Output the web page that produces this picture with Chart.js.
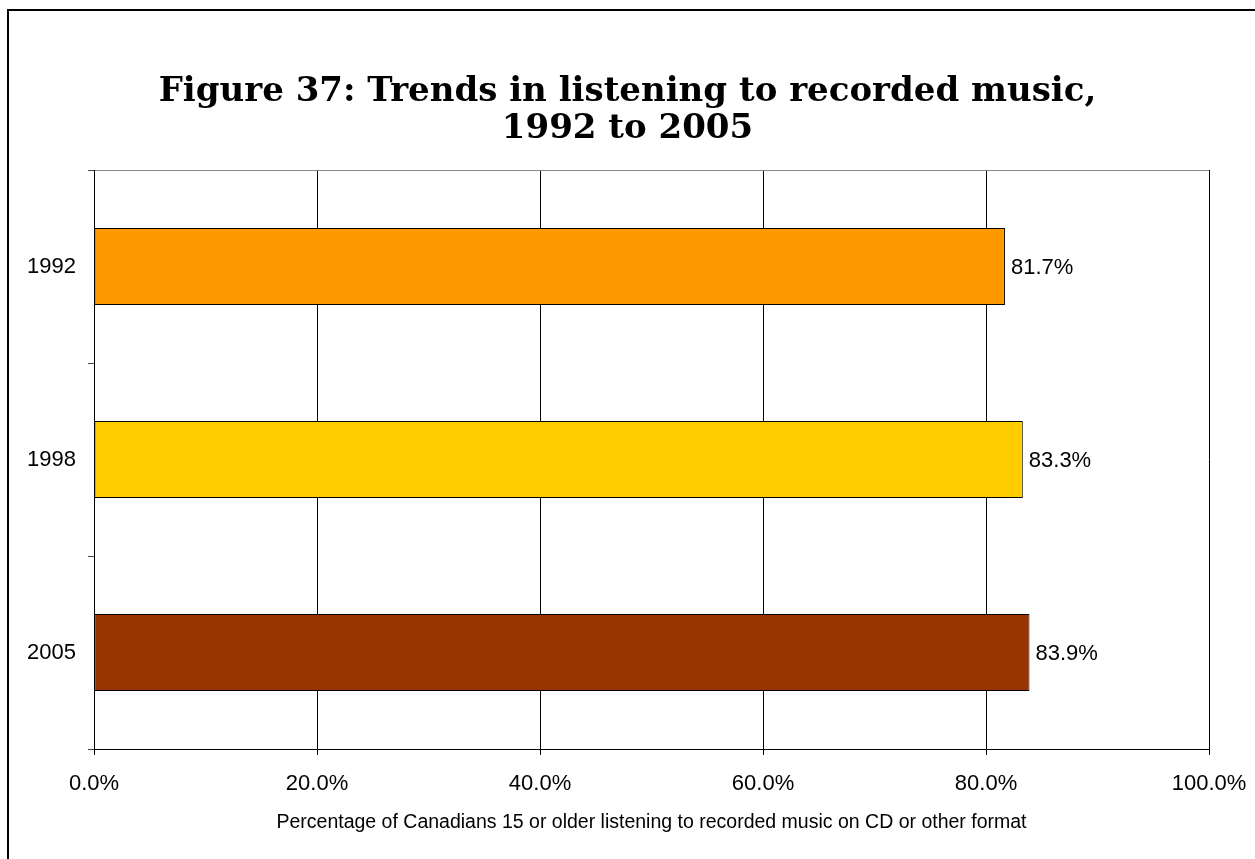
<!DOCTYPE html>
<html>
<head>
<meta charset="utf-8">
<script src="https://cdn.jsdelivr.net/npm/chart.js@4.4.1/dist/chart.umd.min.js"></script>
<style>
  html, body { margin: 0; padding: 0; background: #fff; overflow: hidden; }
  #frame {
    position: absolute; left: 7px; top: 9px;
    width: 2000px; height: 2000px;
    border: 2px solid #000;
  }
  #wrap { position: absolute; left: 0; top: 0; width: 1255px; height: 859px; }
</style>
</head>
<body>
<div id="frame"></div>
<div id="wrap"><canvas id="chart" width="1255" height="859"></canvas></div>
<script>
// Chart data
const years = ['1992', '1998', '2005'];
const listening = [81.7, 83.3, 83.9];
const barColors = ['#FF9900', '#FFCC00', '#993300'];
const xTicks = [0, 20, 40, 60, 80, 100];

const titleLines = ['Figure 37: Trends in listening to recorded music,', '1992 to 2005'];
const xTitle = 'Percentage of Canadians 15 or older listening to recorded music on CD or other format';

const sansFont = '"Liberation Sans", Arial, sans-serif';

// title centred on the whole picture (not just the plot area)
const pageTitle = {
    id: 'pageTitle',
    afterDraw(chart) {
        const ctx = chart.ctx;
        ctx.save();
        ctx.font = 'bold 34px "DejaVu Serif", serif';
        ctx.fillStyle = '#000';
        ctx.textAlign = 'center';
        ctx.textBaseline = 'alphabetic';
        ctx.fillText(titleLines[0], chart.width / 2, 101);
        ctx.fillText(titleLines[1], chart.width / 2, 138);
        ctx.restore();
    }
};

// value labels to the right of each bar
const valueLabels = {
    id: 'valueLabels',
    afterDatasetsDraw(chart) {
        const ctx = chart.ctx;
        const meta = chart.getDatasetMeta(0);
        ctx.save();
        ctx.font = '22px ' + sansFont;
        ctx.fillStyle = '#000';
        ctx.textAlign = 'left';
        ctx.textBaseline = 'middle';
        meta.data.forEach((bar, i) => {
            ctx.fillText(listening[i].toFixed(1) + '%', bar.x + 6, bar.y + 1);
        });
        ctx.restore();
    }
};

new Chart(document.getElementById('chart'), {
    type: 'bar',
    data: {
        labels: years,
        datasets: [{
            data: listening,
            backgroundColor: barColors,
            borderColor: '#000',
            borderWidth: 1,
            borderSkipped: false,
            barPercentage: 0.8,
            categoryPercentage: 0.5
        }]
    },
    options: {
        indexAxis: 'y',
        responsive: false,
        animation: false,
        events: [],
        layout: { padding: { top: 170, right: 46, bottom: 0, left: 0 } },
        plugins: {
            legend: { display: false },
            tooltip: { enabled: false },
            title: { display: false }
        },
        scales: {
            x: {
                min: 0,
                max: 100,
                afterFit(scale) {
                    scale.height = 110;
                    scale.paddingLeft = 0;
                    scale.paddingRight = 0;
                },
                afterBuildTicks(scale) { scale.ticks = xTicks.map(v => ({ value: v })); },
                ticks: {
                    color: '#000',
                    padding: 16,
                    maxRotation: 0,
                    font: { family: sansFont, size: 22 },
                    callback: v => v.toFixed(1) + '%'
                },
                grid: {
                    color: '#000',
                    lineWidth: 1,
                    tickLength: 6,
                    drawTicks: true
                },
                border: { color: '#000', width: 1 },
                title: {
                    display: true,
                    text: xTitle,
                    color: '#000',
                    font: { family: sansFont, size: 19.5 },
                    padding: { top: 0, bottom: 25 }
                }
            },
            y: {
                afterFit(scale) { scale.width = 94; },
                ticks: {
                    color: '#000',
                    padding: 12,
                    font: { family: sansFont, size: 22 }
                },
                grid: {
                    offset: true,
                    color: ctx => ctx.index === 0 ? '#888' : 'rgba(0,0,0,0)',
                    tickColor: '#444',
                    tickLength: 6
                },
                border: { color: '#000', width: 1 }
            }
        }
    },
    plugins: [valueLabels, pageTitle]
});
</script>
</body>
</html>
